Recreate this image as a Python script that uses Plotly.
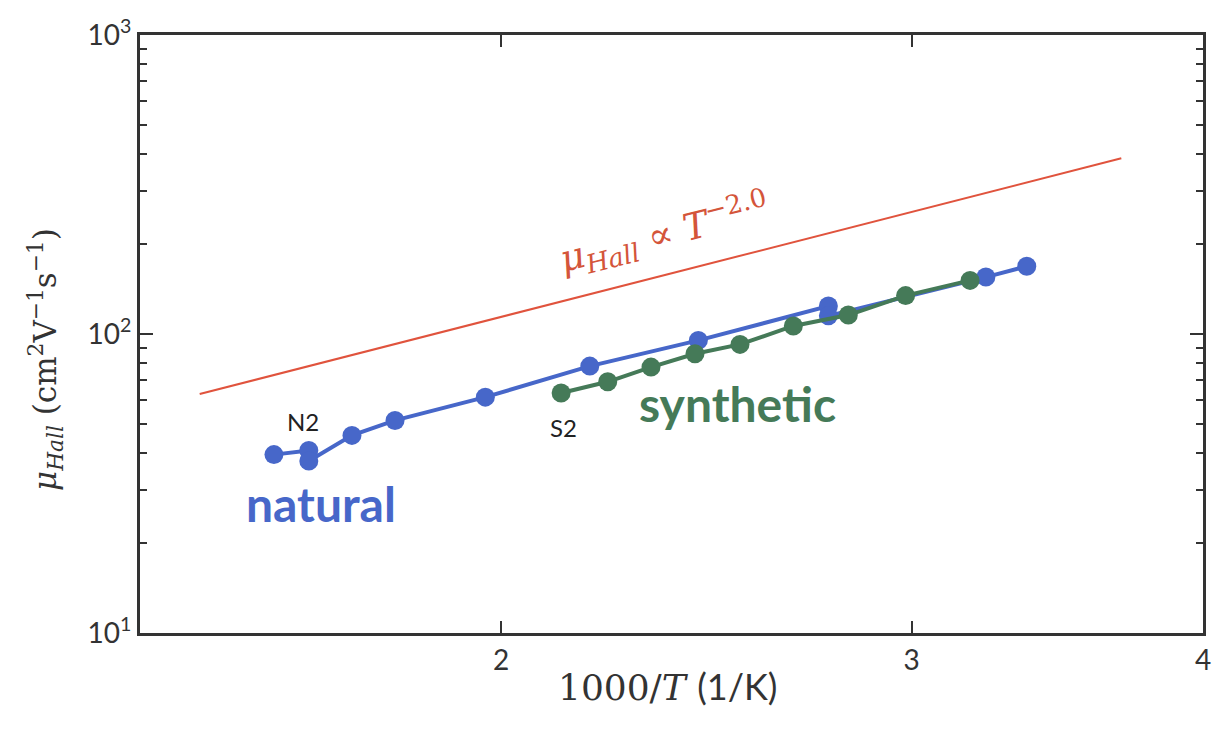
import numpy as np
import plotly.graph_objects as go

# ---- data ----
nat_x = [1.598, 1.654, 1.654, 1.726, 1.801, 1.969, 2.183, 2.430, 2.763, 2.763, 3.228, 3.361]
nat_y = [39.5, 40.8, 37.6, 45.8, 51.4, 61.5, 78.1, 95.2, 124.0, 115.0, 155.0, 168.4]

syn_x = [2.122, 2.222, 2.319, 2.422, 2.532, 2.669, 2.818, 2.982, 3.178]
syn_y = [63.5, 69.2, 77.5, 85.9, 92.3, 106.4, 115.7, 134.4, 151.1]

guide_x = [1.485, 3.69]
guide_y = [63.0, 387.0]

x_ticks = [2, 3, 4]
x_ticklabels = ["2", "3", "4"]
y_ticks = [10, 100, 1000]
y_ticklabels = ["10<sup>1</sup>", "10<sup>2</sup>", "10<sup>3</sup>"]
y_minor = [v * m for m in (10, 100) for v in range(2, 10)]

BLUE = "#4767c9"
GREEN = "#457a58"
RED = "#e0533d"
AX = "#333333"
SANS = "Lato, 'Open Sans', sans-serif"
SERIF = "'DejaVu Serif', serif"

fig = go.Figure()
fig.add_trace(go.Scatter(x=guide_x, y=guide_y, mode="lines",
                         line=dict(color=RED, width=2), showlegend=False))
fig.add_trace(go.Scatter(x=nat_x, y=nat_y, mode="lines+markers",
                         line=dict(color=BLUE, width=4),
                         marker=dict(color=BLUE, size=19), showlegend=False))
fig.add_trace(go.Scatter(x=syn_x, y=syn_y, mode="lines+markers",
                         line=dict(color=GREEN, width=4),
                         marker=dict(color=GREEN, size=19), showlegend=False))

L, R, T, B = 140, 19, 35, 97
W, H = 1222, 730
pw, ph = W - L - R, H - T - B

def px(x):
    return (x - L) / pw

def py(y):
    return (H - B - y) / ph

ann = [
    dict(text="N2", x=px(303), y=py(421), font=dict(family=SANS, size=24, color="#222")),
    dict(text="<b>natural</b>", x=px(321), y=py(503), font=dict(family=SANS, size=48, color=BLUE)),
    dict(text="S2", x=px(563), y=py(427), font=dict(family=SANS, size=24, color="#222")),
    dict(text="<b>synthetic</b>", x=px(737), y=py(403), font=dict(family=SANS, size=48, color=GREEN)),
    dict(text="<i>μ</i><sub><i>Hall</i></sub> ∝ <i>T</i><sup>−2.0</sup>", x=px(664), y=py(233),
         textangle=-14, font=dict(family=SERIF, size=37, color="#d4553a")),
    dict(text="<i>μ</i><sub><i>Hall</i></sub> (cm<sup>2</sup>V<sup>−1</sup>s<sup>−1</sup>)",
         x=px(45), y=py(360), textangle=-90, font=dict(family=SERIF, size=31, color=AX)),
    dict(text="1000/<i>T</i> <span style='font-family:Lato'>(1/K)</span>", x=px(667), y=py(686),
         font=dict(family=SERIF, size=36, color=AX)),
]
for a in ann:
    a.update(xref="paper", yref="paper", showarrow=False, xanchor="center", yanchor="middle")

fig.update_layout(
    width=W, height=H, margin=dict(l=L, r=R, t=T, b=B),
    plot_bgcolor="white", paper_bgcolor="white",
    annotations=ann,
    xaxis=dict(type="log", range=[np.log10(1.4), np.log10(4.0)],
               tickmode="array", tickvals=x_ticks, ticktext=x_ticklabels,
               ticks="inside", ticklen=12, tickwidth=2, tickcolor=AX,
               showline=True, linewidth=3, linecolor=AX, mirror="ticks",
               showgrid=False, zeroline=False,
               tickfont=dict(family=SANS, size=28, color=AX)),
    yaxis=dict(type="log", range=[1, 3],
               tickmode="array", tickvals=y_ticks, ticktext=y_ticklabels,
               ticks="inside", ticklen=13, tickwidth=2, tickcolor=AX,
               showline=True, linewidth=3, linecolor=AX, mirror="ticks",
               showgrid=False, zeroline=False,
               tickfont=dict(family=SANS, size=28, color=AX),
               minor=dict(tickmode="array", tickvals=y_minor, ticks="inside",
                          ticklen=7, tickwidth=2, tickcolor=AX, showgrid=False)),
)

fig.write_html("out.html")
